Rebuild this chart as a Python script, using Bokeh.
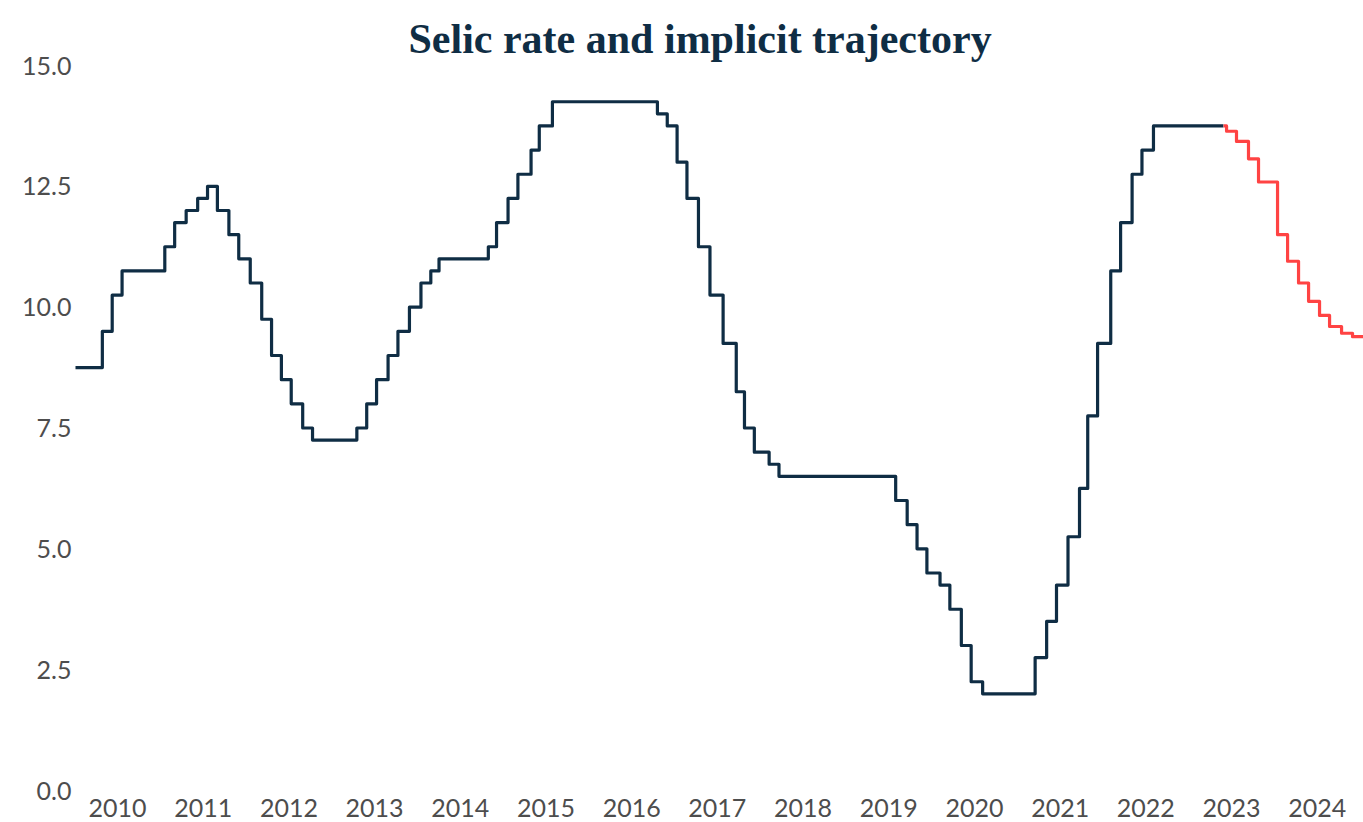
import datetime as dt
from bokeh.plotting import figure
from bokeh.models import Range1d, FixedTicker, ColumnDataSource, PrintfTickFormatter
from bokeh.embed import file_html
from bokeh.resources import INLINE

# Selic rate decisions (effective date, % p.a.)
selic_dates = [
    "2010-01-01", "2010-04-29", "2010-06-10", "2010-07-22",
    "2011-01-20", "2011-03-03", "2011-04-21", "2011-06-09", "2011-07-21",
    "2011-09-01", "2011-10-20", "2011-12-01",
    "2012-01-19", "2012-03-08", "2012-04-19", "2012-05-31", "2012-07-12",
    "2012-08-30", "2012-10-11",
    "2013-04-18", "2013-05-30", "2013-07-11", "2013-08-29", "2013-10-10",
    "2013-11-28",
    "2014-01-16", "2014-02-27", "2014-04-03", "2014-10-30", "2014-12-04",
    "2015-01-22", "2015-03-05", "2015-04-30", "2015-06-04", "2015-07-30",
    "2016-10-20", "2016-12-01",
    "2017-01-12", "2017-02-23", "2017-04-13", "2017-06-01", "2017-07-27",
    "2017-09-21", "2017-10-26", "2017-12-07",
    "2018-02-08", "2018-03-22",
    "2019-08-01", "2019-09-19", "2019-10-31", "2019-12-12",
    "2020-02-06", "2020-03-19", "2020-05-07", "2020-06-18", "2020-08-06",
    "2021-03-18", "2021-05-06", "2021-06-17", "2021-08-05", "2021-09-23",
    "2021-10-28", "2021-12-09",
    "2022-02-03", "2022-03-17", "2022-05-05", "2022-06-16", "2022-08-04",
    "2023-05-29",
]
selic_rates = [
    8.75, 9.50, 10.25, 10.75,
    11.25, 11.75, 12.00, 12.25, 12.50,
    12.00, 11.50, 11.00,
    10.50, 9.75, 9.00, 8.50, 8.00,
    7.50, 7.25,
    7.50, 8.00, 8.50, 9.00, 9.50,
    10.00,
    10.50, 10.75, 11.00, 11.25, 11.75,
    12.25, 12.75, 13.25, 13.75, 14.25,
    14.00, 13.75,
    13.00, 12.25, 11.25, 10.25, 9.25,
    8.25, 7.50, 7.00,
    6.75, 6.50,
    6.00, 5.50, 5.00, 4.50,
    4.25, 3.75, 3.00, 2.25, 2.00,
    2.75, 3.50, 4.25, 5.25, 6.25,
    7.75, 9.25,
    10.75, 11.75, 12.75, 13.25, 13.75,
    13.75,
]

# Implicit trajectory (decimal year, % p.a.)
implicit_t = [2023.407, 2023.442, 2023.558, 2023.698, 2023.815, 2024.037,
              2024.154, 2024.282, 2024.399, 2024.527, 2024.644, 2024.784,
              2024.912, 2025.05]
implicit_rates = [13.75, 13.64, 13.43, 13.07, 12.59, 11.50,
                  10.95, 10.50, 10.12, 9.83, 9.60, 9.46,
                  9.39, 9.39]

year_labels = [str(y) for y in range(2010, 2025)]
y_ticks = [0, 2.5, 5, 7.5, 10, 12.5, 15]


def to_decimal_year(s):
    d = dt.date.fromisoformat(s)
    start = dt.date(d.year, 1, 1)
    end = dt.date(d.year + 1, 1, 1)
    return d.year + (d - start).days / (end - start).days


selic_t = [to_decimal_year(s) for s in selic_dates]

NAVY = "#0f2d44"
RED = "#ff4343"
GREY = "#4d4d4d"

p = figure(width=1363, height=822, output_backend="svg", toolbar_location=None,
           x_range=Range1d(2010.01, 2025.04), y_range=Range1d(0, 15),
           min_border_left=75, min_border_right=0, min_border_top=65,
           min_border_bottom=32)

p.title.text = "Selic rate and implicit trajectory"
p.title.align = "left"
p.title.offset = 333
p.title.standoff = 8
p.title.text_font = "Liberation Serif"
p.title.text_font_style = "bold"
p.title.text_font_size = "42px"
p.title.text_color = NAVY

src_a = ColumnDataSource(dict(t=selic_t, v=selic_rates))
src_b = ColumnDataSource(dict(t=implicit_t, v=implicit_rates))
p.step("t", "v", source=src_a, mode="after", line_color=NAVY, line_width=3.2,
       line_join="round")
p.step("t", "v", source=src_b, mode="after", line_color=RED, line_width=3.2,
       line_join="round")

p.outline_line_color = None
p.grid.grid_line_color = None
p.background_fill_color = "white"
p.border_fill_color = "white"

ticks = [int(y) + 0.5 for y in year_labels]
p.xaxis.ticker = FixedTicker(ticks=ticks)
p.xaxis.major_label_overrides = {t: lab for t, lab in zip(ticks, year_labels)}
p.yaxis.ticker = FixedTicker(ticks=y_ticks)
p.yaxis.formatter = PrintfTickFormatter(format="%.1f")

for ax in (p.xaxis, p.yaxis):
    ax.axis_line_color = None
    ax.major_tick_line_color = None
    ax.minor_tick_line_color = None
    ax.major_tick_out = 0
    ax.major_tick_in = 0
    ax.major_label_text_font = "Lato"
    ax.major_label_text_font_size = "25px"
    ax.major_label_text_color = GREY

p.yaxis.major_label_standoff = 4
p.xaxis.major_label_standoff = 8

open("out.html", "w").write(file_html(p, INLINE))
